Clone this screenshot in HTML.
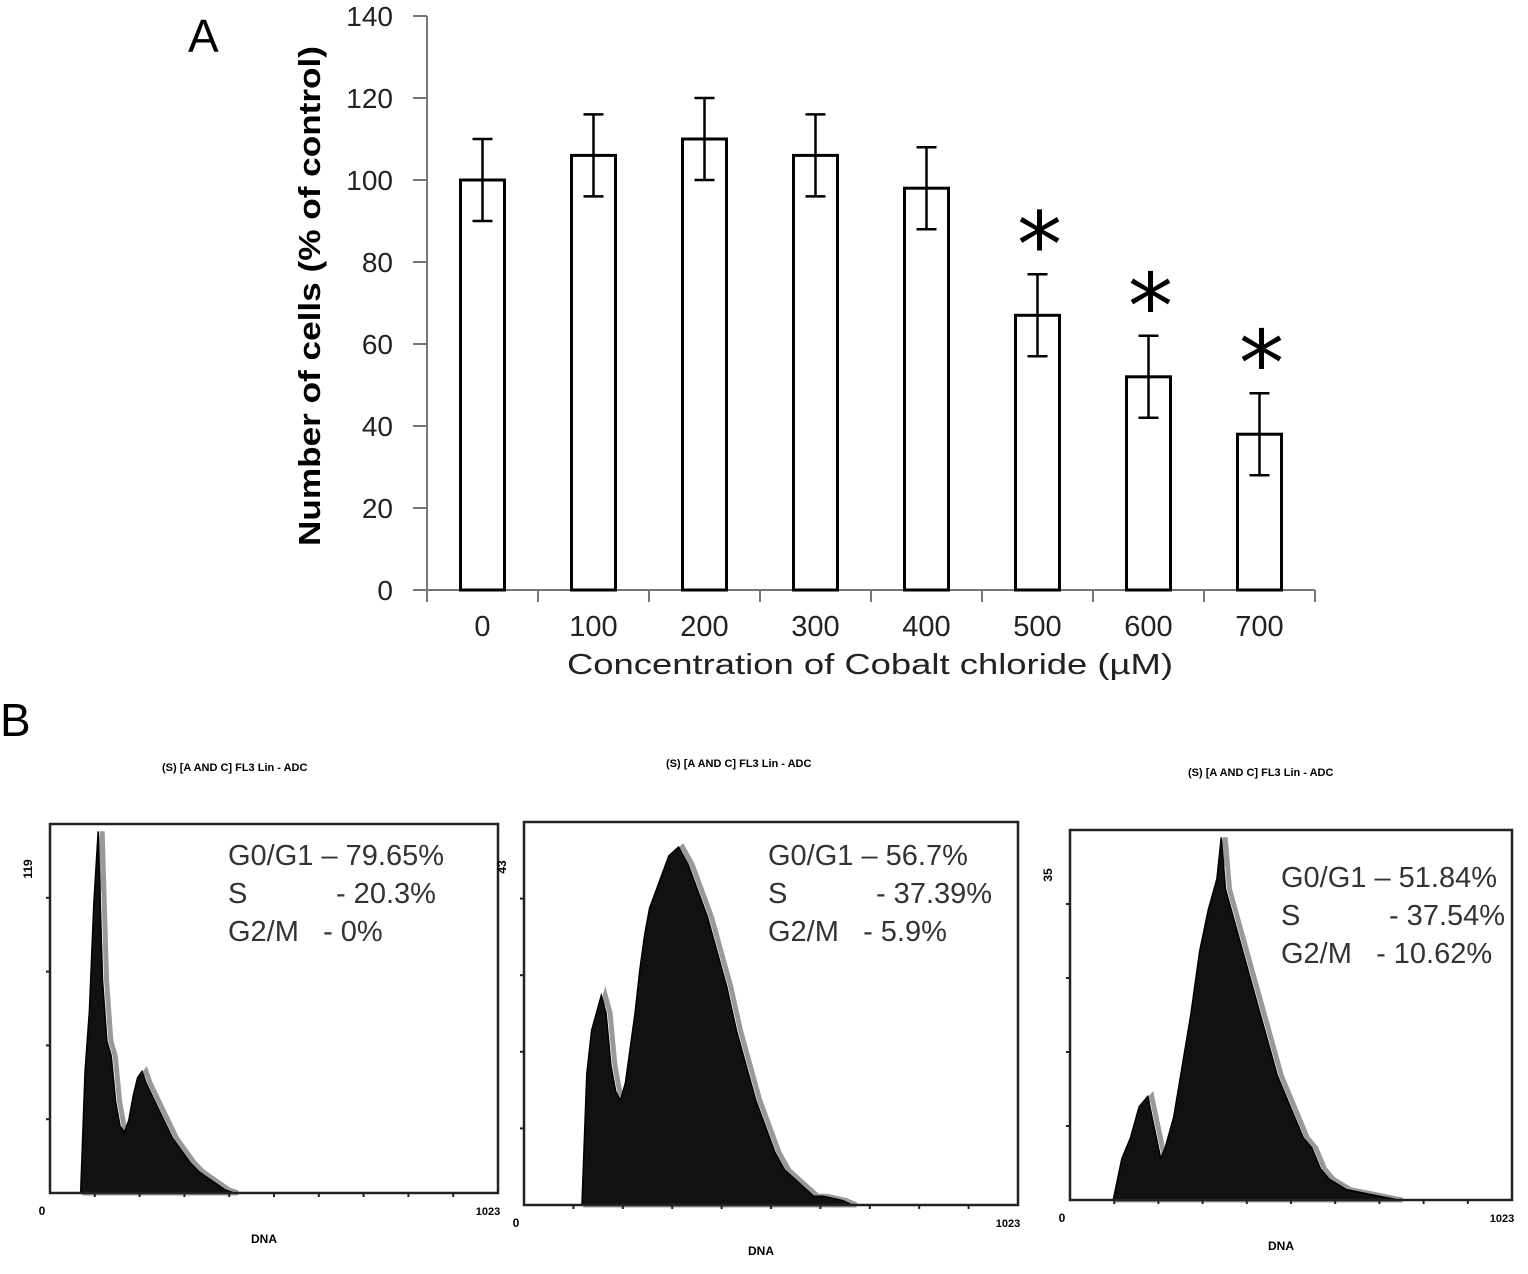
<!DOCTYPE html>
<html><head><meta charset="utf-8"><style>
body{margin:0;background:#fff;}
svg{display:block;font-family:"Liberation Sans",sans-serif;}
</style></head><body>
<svg id="fig" width="1528" height="1274" viewBox="0 0 1528 1274">
<text x="188" y="52" font-size="46">A</text>
<text x="0" y="736" font-size="46">B</text>
<g id="barchart"></g>
<g id="flow"></g>
</svg>
<script>
const categories=["0","100","200","300","400","500","600","700"];
const meanValues=[100,106,110,106,98,67,52,38];
const errValues=[10,10,10,10,10,10,10,10];
const significant=[false,false,false,false,false,true,true,true];
const yTicks=[0,20,40,60,80,100,120,140];

const h1Channels=[70,80,90,100,110,120,130,140,150,160,170,180,190,200,210,220,240,260,280,300,320,340,360,380,400,420];
const h1Counts=[0,40,60,95,119,70,50,45,30,22,20,24,32,38,40,36,30,24,18,14,10,7,5,3,1,0];
const h2Channels=[120,130,140,150,160,170,180,190,200,210,220,230,240,250,260,280,300,320,340,360,380,400,420,440,460,480,500,520,540,560,580,600,620,660,680];
const h2Counts=[0,15,20,22,24,22,16,13,12,14,18,22,27,31,34,37,40,41,39,36,33,29,25,20,16,12,9,6,4,3,2,1,1,0.5,0];
const h3Channels=[100,120,140,160,180,200,210,220,240,260,280,300,320,340,350,360,380,400,420,440,460,480,500,520,540,560,580,600,640,700,760];
const h3Counts=[0,4,6,9,10,6,4,5,8,13,18,24,28,31,35,30,27,24,21,18,15,12,10,8,6,5,3,2,1,0.5,0];
const yMaxLabels=["119","43","35"];
const statLines=[["G0/G1 – 79.65%","S           - 20.3%","G2/M   - 0%"],["G0/G1 – 56.7%","S           - 37.39%","G2/M   - 5.9%"],["G0/G1 – 51.84%","S           - 37.54%","G2/M   - 10.62%"]];

const NS="http://www.w3.org/2000/svg";
function mk(tag,attrs,parent,text){const e=document.createElementNS(NS,tag);for(const k in attrs)e.setAttribute(k,attrs[k]);if(text!==undefined)e.textContent=text;parent.appendChild(e);return e;}

const bc=document.getElementById('barchart');
const X0=427,X1=1315,Y0=590,Y1=16;
const yS=v=>Y0-(v/140)*(Y0-Y1);
const band=(X1-X0)/categories.length;
const xC=i=>X0+band*(i+0.5);
let e=mk('line',{x1:X0,y1:Y1,x2:X0,y2:Y0,stroke:'#777','stroke-width':2},bc);


e=mk('line',{x1:X0,y1:Y0,x2:X1,y2:Y0,stroke:'#777','stroke-width':2},bc);


yTicks.forEach(t=>{
  mk('line',{x1:X0-14,y1:yS(t),x2:X0,y2:yS(t),stroke:'#777','stroke-width':2},bc);
  const tx=mk('text',{x:393,y:yS(t)+10,'font-size':28,'text-anchor':'end',fill:'#222'},bc,String(t));
  
  
});
for(let i=0;i<=categories.length;i++){mk('line',{x1:X0+band*i,y1:Y0,x2:X0+band*i,y2:Y0+12,stroke:'#777','stroke-width':2},bc);}
categories.forEach((c,i)=>{
  const tx=mk('text',{x:xC(i),y:636,'font-size':29,'text-anchor':'middle',fill:'#222'},bc,c);
  
  
  const r=mk('rect',{x:xC(i)-22,y:yS(meanValues[i]),width:44,height:Y0-yS(meanValues[i]),fill:'#fff',stroke:'#000','stroke-width':3},bc);
  
  
  const hi=yS(meanValues[i]+errValues[i]),lo=yS(meanValues[i]-errValues[i]);
  const g=mk('path',{d:`M${xC(i)} ${hi}V${lo}M${xC(i)-10} ${hi}H${xC(i)+10}M${xC(i)-10} ${lo}H${xC(i)+10}`,stroke:'#000','stroke-width':2.5,fill:'none'},bc);
  
  
  if(significant[i]){
    const s=mk('text',{x:xC(i)+2,y:hi+2,'font-size':90,'text-anchor':'middle','font-family':'DejaVu Sans, sans-serif'},bc,'*');
    
    
  }
});
e=mk('text',{x:870,y:674,'font-size':29,'text-anchor':'middle',fill:'#222',textLength:606,lengthAdjust:'spacingAndGlyphs'},bc,'Concentration of Cobalt chloride (µM)');


e=mk('text',{x:0,y:0,'font-size':31,'font-weight':'bold','text-anchor':'middle',transform:'translate(320,296) rotate(-90)',textLength:500,lengthAdjust:'spacingAndGlyphs'},bc,'Number of cells (% of control)');



const fl=document.getElementById('flow');
const panels=[
 {bx:50,by:824,bw:448,bh:369,ch:h1Channels,ct:h1Counts,max:119,tx:162,ty:771,sx:228,sy:865},
 {bx:524,by:822,bw:494,bh:383,ch:h2Channels,ct:h2Counts,max:43,tx:666,ty:767,sx:768,sy:865},
 {bx:1070,by:830,bw:442,bh:370,ch:h3Channels,ct:h3Counts,max:35,tx:1188,ty:776,sx:1281,sy:887}
];
panels.forEach((p,k)=>{
  const g=mk('g',{},fl);
  
  
  const xs=v=>p.bx+v/1023*p.bw, ys=v=>p.by+p.bh-v/p.max*p.bh*0.98;
  let d=`M${xs(p.ch[0])} ${p.by+p.bh}`;
  p.ch.forEach((c,i)=>{d+=`L${xs(c)} ${ys(p.ct[i])}`;});
  d+=`L${xs(p.ch[p.ch.length-1])} ${p.by+p.bh}Z`;
  mk('path',{d:d,fill:'none',stroke:'#999','stroke-width':5,transform:'translate(4,0)'},g);
  const a=mk('path',{d:d,fill:'#111',stroke:'#000','stroke-width':1.5},g);
  
  
  const b=mk('rect',{x:p.bx,y:p.by,width:p.bw,height:p.bh,fill:'none',stroke:'#222','stroke-width':2.5},g);
  
  
  for(let i=1;i<10;i++)mk('line',{x1:p.bx+p.bw*i/10,y1:p.by+p.bh,x2:p.bx+p.bw*i/10,y2:p.by+p.bh+4,stroke:'#222','stroke-width':2},g);
  for(let i=1;i<5;i++)mk('line',{x1:p.bx-4,y1:p.by+p.bh*i/5,x2:p.bx,y2:p.by+p.bh*i/5,stroke:'#222','stroke-width':2},g);
  mk('text',{x:p.tx,y:p.ty,'font-size':11,'font-weight':'bold'},g,'(S) [A AND C] FL3 Lin - ADC');
  mk('text',{x:p.bx-8,y:p.bh+p.by+22,'font-size':12,'font-weight':'bold','text-anchor':'middle'},g,'0');
  mk('text',{x:p.bx+p.bw-10,y:p.bh+p.by+22,'font-size':11,'font-weight':'bold','text-anchor':'middle'},g,'1023');
  mk('text',{x:p.bx+p.bw/2-10,y:p.bh+p.by+50,'font-size':12,'font-weight':'bold','text-anchor':'middle'},g,'DNA');
  mk('text',{x:0,y:0,'font-size':12,'font-weight':'bold','text-anchor':'middle',transform:`translate(${p.bx-18},${p.by+45}) rotate(-90)`},g,yMaxLabels[k]);
  statLines[k].forEach((s,j)=>{
    const t=mk('text',{x:p.sx,y:p.sy+j*38,'font-size':29,fill:'#333','xml:space':'preserve'},g,s);
    t.style.whiteSpace='pre';
    
    
  });
});
</script>
</body></html>
